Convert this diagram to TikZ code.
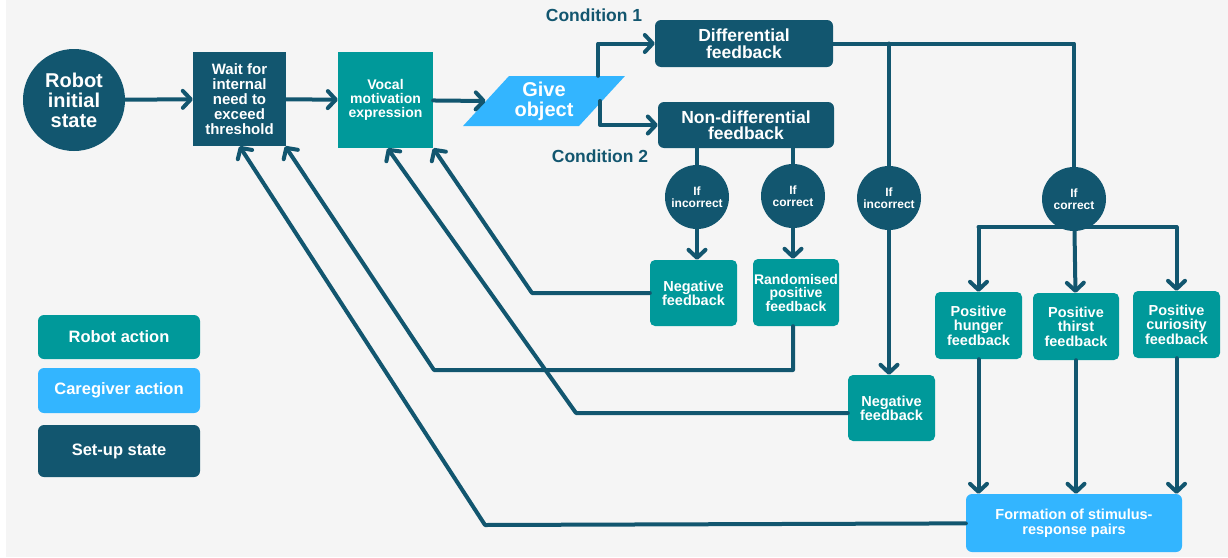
\documentclass[tikz,border=0pt]{standalone}
\usepackage{fontspec}
\setmainfont{Liberation Sans}
\usetikzlibrary{arrows.meta,shapes.geometric}
\definecolor{setupc}{HTML}{12566F}
\definecolor{robotc}{HTML}{00999A}
\definecolor{giverc}{HTML}{33B5FF}
\definecolor{bgc}{HTML}{F5F5F5}
\newcommand{\fsz}[2]{\bfseries\fontsize{#1}{#2}\selectfont}

\begin{document}
\begin{tikzpicture}[x=1pt, y=-1pt,
    line/.style ={draw=setupc, line width=4pt, line cap=round, line join=round},
    arr/.style ={line, -{Straight Barb[length=8pt,width=17pt,round]}},
    box/.style ={text=white, align=center, inner sep=0pt},
    setup/.style ={box, fill=setupc},
    robot/.style ={box, fill=robotc, rounded corners=5pt},
    giver/.style ={box, fill=giverc, rounded corners=6pt},
    decision/.style ={box, circle, fill=setupc, minimum size=64pt, font=\fsz{12}{11.5}},
    condition/.style ={text=setupc, font=\fsz{17.5}{18}}]
   \useasboundingbox (0,0) rectangle (1228,557);
   \fill[bgc] (6,0) rectangle (1228,557);

   % main chain
   \node[setup, circle, minimum size=102pt, font=\fsz{20}{20}] (R) at (74,100) {Robot\\initial\\state};
   \node[setup, minimum width=93pt, minimum height=94pt, font=\fsz{15}{15}] (W) at (239.5,99) {Wait for\\internal\\need to\\exceed\\threshold};
   \node[robot, rounded corners=0pt, minimum width=95pt, minimum height=96pt, font=\fsz{14}{14}] (V) at (385.5,100) {Vocal\\motivation\\expression};
   \node[giver, rounded corners=0pt, trapezium, trapezium left angle=45, trapezium right angle=135,
         trapezium stretches=true, minimum width=162pt, minimum height=50pt, font=\fsz{20}{20}] (G) at (544,101) {Give\\object};

   \node[condition] (C1T) at (594,15) {Condition 1};
   \node[condition] (C2T) at (600,156) {Condition 2};

   \node[setup, rounded corners=6pt, minimum width=178pt, minimum height=47pt, font=\fsz{17.5}{16.5}] (D) at (744,43.5) {Differential\\feedback};
   \node[setup, rounded corners=6pt, minimum width=176pt, minimum height=46pt, font=\fsz{17.5}{16.5}] (N) at (746,125) {Non-differential\\feedback};

   % decisions
   \node[decision] (C1) at (697,197) {If\\incorrect};
   \node[decision] (C2) at (793,196) {If\\correct};
   \node[decision] (C3) at (889,198) {If\\incorrect};
   \node[decision] (C4) at (1074,199) {If\\correct};

   % feedback boxes
   \node[robot, minimum width=87pt, minimum height=66pt, font=\fsz{14.5}{14}] (NF1) at (693.5,293) {Negative\\feedback};
   \node[robot, minimum width=86pt, minimum height=67pt, font=\fsz{14}{13.5}] (RP) at (796,292.5) {Randomised\\positive\\feedback};
   \node[robot, minimum width=87pt, minimum height=66pt, font=\fsz{14.5}{14}] (NF2) at (891.5,408) {Negative\\feedback};
   \node[robot, minimum width=87pt, minimum height=67pt, font=\fsz{14.5}{14.5}] (PH) at (978.5,325.5) {Positive\\hunger\\feedback};
   \node[robot, minimum width=86pt, minimum height=67pt, font=\fsz{14.5}{14.5}] (PT) at (1076,326.5) {Positive\\thirst\\feedback};
   \node[robot, minimum width=87pt, minimum height=67pt, font=\fsz{14.5}{14.5}] (PC) at (1176.5,324.5) {Positive\\curiosity\\feedback};
   \node[giver, minimum width=216pt, minimum height=58pt, font=\fsz{14.5}{15}] (F) at (1074,523) {Formation of stimulus-\\response pairs};

   % legend
   \node[robot, rounded corners=6pt, minimum width=162pt, minimum height=44pt, font=\fsz{16.5}{17}] (L1) at (119,337) {Robot action};
   \node[giver, minimum width=162pt, minimum height=45pt, font=\fsz{16.5}{17}] (L2) at (119,390.5) {Caregiver action};
   \node[setup, rounded corners=6pt, minimum width=162pt, minimum height=52pt, font=\fsz{16.5}{17}] (L3) at (119,451) {Set-up state};

   \coordinate (T) at ([yshift=4pt]C4.south);
   \coordinate (k1) at (485,525);
   \coordinate (k2) at (434,370);
   \coordinate (k3) at (576,413);
   \coordinate (k4) at (532,293);

   \draw[arr] (R) -- (W);
   \draw[arr] (W) -- (V);
   \draw[arr] (V) -- (G.west);
   \draw[arr] ([xshift=-4pt]G.east |- G.north) |- (D);
   \draw[arr] ([xshift=-2pt]G.east) |- (N);

   \draw[line] (D) -| (C4);
   \draw[line] (D.east -| C3) -- (C3);
   \draw[line] (N.south -| C1) -- (C1);
   \draw[line] (N.south -| C2) -- (C2);
   \draw[arr] (C1) -- (C1 |- NF1.north);
   \draw[arr] (C2) -- (C2 |- RP.north);
   \draw[arr] (C3) -- (C3 |- NF2.north);

   \draw[line] (T -| PH) -- (T -| PC);
   \draw[arr] (T -| PH) -- (PH);
   \draw[arr] (C4) -- (PT);
   \draw[arr] (T -| PC) -- (PC);
   \draw[arr] (PH) -- (PH |- F.north);
   \draw[arr] (PT) -- (PT |- F.north);
   \draw[arr] (PC) -- (PC |- F.north);

   % back to the start
   \draw[arr] (F) -- (k1) -- (W.south);
   \draw[arr] (RP.south -| C2) |- (k2) -- ([xshift=-1pt]W.south east);
   \draw[arr] (k3 -| NF2.west) -- (k3) -- ([xshift=2pt]V.south);
   \draw[arr] (NF1) -- (k4) -- (V.south east);

 \end{tikzpicture}
\end{document}
